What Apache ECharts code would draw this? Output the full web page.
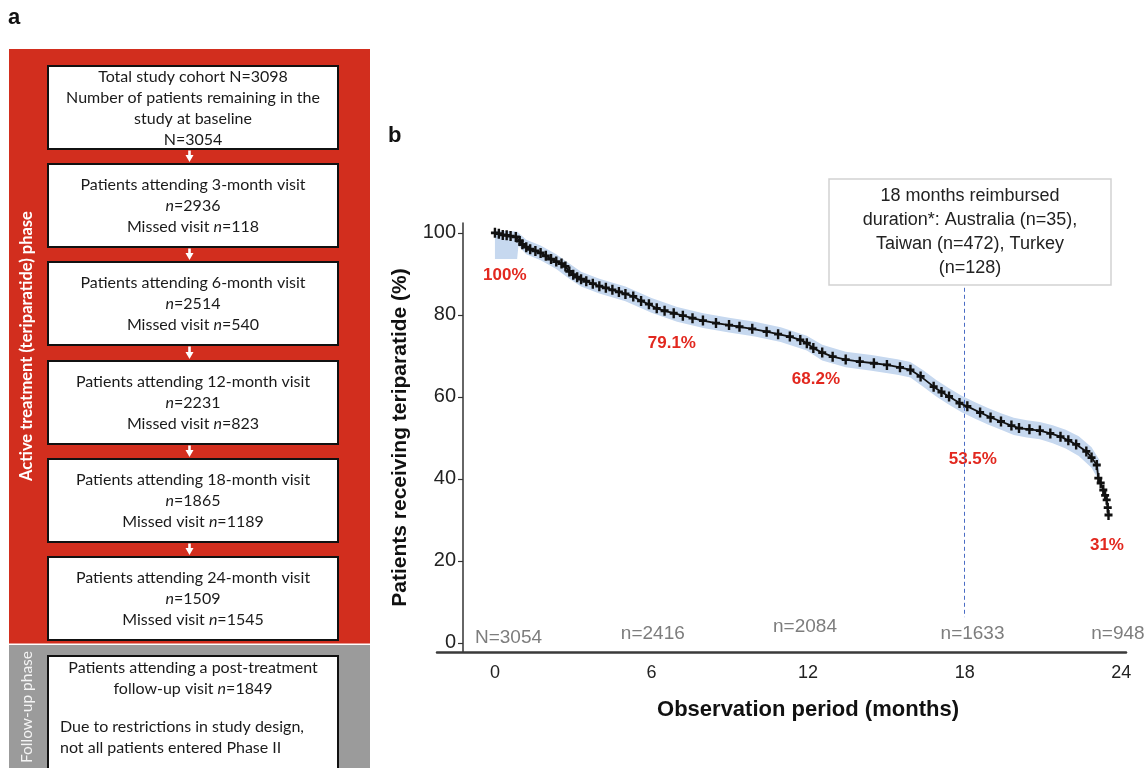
<!DOCTYPE html>
<html><head><meta charset="utf-8">
<script src="https://cdn.jsdelivr.net/npm/echarts@6/dist/echarts.min.js"></script>
<style>html,body{margin:0;padding:0;background:#fff}#c{width:1146px;height:768px}</style>
</head><body><div id="c"></div>
<script>
// ---------- Panel b data ----------
const kmMonths = [0,0.15,0.3,0.45,0.6,0.8,0.95,1.05,1.2,1.35,1.55,1.75,1.95,2.15,2.35,2.55,2.7,2.85,3.0,3.15,3.3,3.5,3.75,4.0,4.25,4.5,4.75,5.0,5.3,5.6,5.9,6.2,6.5,6.85,7.2,7.57,7.97,8.47,8.97,9.37,9.86,10.41,10.85,11.3,11.7,11.95,12.2,12.54,12.94,13.44,13.98,14.52,15.02,15.52,15.92,16.31,16.81,17.11,17.4,17.8,18.1,18.59,18.99,19.39,19.79,20.08,20.48,20.88,21.28,21.67,21.97,22.27,22.66,22.86,23.06,23.12,23.21,23.31,23.38,23.44,23.48,23.51];
const kmPercent = [100,99.8,99.5,99.4,99.2,99.0,98.0,97.2,96.5,96.0,95.6,95.1,94.4,93.6,93.0,92.5,91.8,90.6,89.8,89.2,88.7,88.2,87.6,87.0,86.6,86.1,85.6,85.1,84.5,83.4,82.6,81.6,81.0,80.4,79.8,79.2,78.6,78.0,77.5,77.1,76.6,75.9,75.3,74.7,73.9,73.1,71.9,70.8,69.8,69.1,68.6,68.2,67.8,67.2,66.6,65.0,62.5,61.2,60.1,58.5,57.7,56.2,55.0,54.0,53.0,52.4,52.1,51.8,51.1,50.3,49.4,48.4,46.7,45.2,43.4,40.2,39.0,37.3,36.0,34.9,33.0,31.2];
const ciMonths = [0,0.85,0.9,1.2,1.75,2.35,2.85,3.3,4.0,5.0,6.0,6.98,7.98,8.97,9.96,10.95,11.95,12.54,13.44,14.43,15.42,15.92,16.41,16.91,17.4,17.9,18.4,18.89,19.39,19.88,20.38,20.88,21.37,21.87,22.37,22.86,23.16];
const ciUpper = [100.5,100.3,100.0,98.3,96.9,94.8,92.5,90.5,88.8,86.9,84.1,81.9,80.4,79.3,78.3,77.0,74.9,72.7,71.0,70.2,69.2,68.5,66.5,64.1,62.1,60.2,58.7,57.3,56.0,54.9,54.3,53.9,53.1,52.0,50.4,47.7,44.6];
const ciLower = [93.6,93.6,96.8,94.8,93.3,91.2,88.8,86.9,85.2,83.3,80.5,78.3,76.8,75.7,74.7,73.4,71.3,68.9,67.2,66.4,65.4,64.7,62.5,60.1,58.1,56.2,54.7,53.3,52.0,50.7,50.1,49.7,48.7,47.4,45.6,42.7,39.4];
const xTickValues = [0,6,12,18,24];
const yTickValues = [0,20,40,60,80,100];
const milestoneTexts = ['100%','79.1%','68.2%','53.5%','31%'];
const atRiskTexts = ['N=3054','n=2416','n=2084','n=1633','n=948'];
const reimbursedMonth = 18;
const reimburseNote = ['18 months reimbursed','duration*: Australia (n=35),','Taiwan (n=472), Turkey','(n=128)'];

// ---------- Panel a data ----------
const flowBoxLines = [
  ['Total study cohort N=3098','Number of patients remaining in the','study at baseline','N=3054'],
  ['Patients attending 3-month visit','{i|n}=2936','Missed visit {i|n}=118'],
  ['Patients attending 6-month visit','{i|n}=2514','Missed visit {i|n}=540'],
  ['Patients attending 12-month visit','{i|n}=2231','Missed visit {i|n}=823'],
  ['Patients attending 18-month visit','{i|n}=1865','Missed visit {i|n}=1189'],
  ['Patients attending 24-month visit','{i|n}=1509','Missed visit {i|n}=1545']
];
const followUpLines = ['Patients attending a post-treatment','follow-up visit {i|n}=1849'];
const followUpNote = ['Due to restrictions in study design,','not all patients entered Phase II'];
const phaseLabels = ['Active treatment (teriparatide) phase','Follow-up phase'];

// ---------- layout (annotation anchors in data space) ----------
const milestoneAnchors = [[0.38,89.6],[6.78,73.0],[12.3,64.4],[18.31,44.7],[23.45,23.7]];
const atRiskAnchors = [[0.52,1.3],[6.05,2.2],[11.88,3.9],[18.3,2.2],[23.87,2.2]];

const flowFont = 'Lato, "Open Sans", sans-serif';
const RED = '#d22e1e', GRAY = '#9b9b9b';
const boxX = 48, boxW = 290, boxH = 83;
const boxTops = [66,164,262,361,459,557];
const g = [];
g.push({type:'rect', shape:{x:9,y:49,width:361,height:594.5}, style:{fill:RED}, silent:true});
g.push({type:'rect', shape:{x:9,y:645,width:361,height:130}, style:{fill:GRAY}, silent:true});
const rich = {i:{fontStyle:'italic', fontFamily:flowFont, fontSize:16, fill:'#1a1a1a'}};
flowBoxLines.forEach((lines, k) => {
  const top = boxTops[k];
  g.push({type:'rect', shape:{x:boxX,y:top,width:boxW,height:boxH}, style:{fill:'#fff', stroke:'#111', lineWidth:2}, silent:true});
  g.push({type:'text', x:boxX+boxW/2, y:top+boxH/2+0.5, silent:true,
    style:{text:lines.join('\n'), fontFamily:flowFont, fontSize:16, fill:'#1a1a1a', align:'center', verticalAlign:'middle', lineHeight:21, rich:rich}});
  if (k < flowBoxLines.length-1) {
    const y0 = top+boxH+1.5, y1 = boxTops[k+1]-2;
    const cx = 189.5;
    g.push({type:'rect', shape:{x:cx-1.3,y:y0,width:2.6,height:(y1-y0)-5}, style:{fill:'#fff'}, silent:true});
    g.push({type:'polygon', shape:{points:[[cx-4,y1-7],[cx+4,y1-7],[cx,y1]]}, style:{fill:'#fff'}, silent:true});
  }
});
g.push({type:'rect', shape:{x:boxX,y:656,width:boxW,height:140}, style:{fill:'#fff', stroke:'#111', lineWidth:2}, silent:true});
g.push({type:'text', x:boxX+boxW/2, y:678.5, silent:true,
  style:{text:followUpLines.join('\n'), fontFamily:flowFont, fontSize:16, fill:'#1a1a1a', align:'center', verticalAlign:'middle', lineHeight:21, rich:rich}});
g.push({type:'text', x:60, y:737, silent:true,
  style:{text:followUpNote.join('\n'), fontFamily:flowFont, fontSize:16, fill:'#1a1a1a', align:'left', verticalAlign:'middle', lineHeight:21}});
g.push({type:'text', x:27, y:346, rotation:Math.PI/2, silent:true,
  style:{text:phaseLabels[0], fontFamily:flowFont, fontWeight:'bold', fontSize:16.5, fill:'#fff', align:'center', verticalAlign:'middle'}});
g.push({type:'text', x:27, y:707, rotation:Math.PI/2, silent:true,
  style:{text:phaseLabels[1], fontFamily:flowFont, fontSize:15.5, fill:'#f4f4f4', align:'center', verticalAlign:'middle'}});
// panel letters
g.push({type:'text', x:8, y:7, silent:true, style:{text:'a', fontFamily:'"Liberation Sans", Arial, sans-serif', fontWeight:'bold', fontSize:22, fill:'#111'}});
g.push({type:'text', x:388, y:125, silent:true, style:{text:'b', fontFamily:'"Liberation Sans", Arial, sans-serif', fontWeight:'bold', fontSize:22, fill:'#111'}});
// reimbursement note box
g.push({type:'rect', shape:{x:829,y:179,width:282,height:106}, style:{fill:'#fff', stroke:'#d2d2d2', lineWidth:1.5}, silent:true, z:10});
g.push({type:'text', x:970, y:232.5, silent:true, z:11,
  style:{text:reimburseNote.join('\n'), fontFamily:'"Liberation Sans", Arial, sans-serif', fontSize:18, fill:'#222', align:'center', verticalAlign:'middle', lineHeight:24}});

const SANS = '"Liberation Sans", Arial, sans-serif';
const plusPath = 'path://M3.5,0L6.5,0L6.5,3.6L10,3.6L10,6.4L6.5,6.4L6.5,10L3.5,10L3.5,6.4L0,6.4L0,3.6L3.5,3.6Z';

const option = {
  animation: false,
  backgroundColor: '#fff',
  graphic: g,
  grid: {left:437, right:20, top:223, bottom:116, containLabel:false},
  xAxis: {
    type:'value', min:-2.22, max:24.18,
    name:'Observation period (months)', nameLocation:'middle', nameGap:47,
    nameTextStyle:{fontFamily:SANS, fontWeight:'bold', fontSize:22, color:'#111', padding:[0,0,0,53]},
    axisLine:{show:true, onZero:false, lineStyle:{color:'#3a3a3a', width:2.5}},
    axisTick:{show:false},
    axisLabel:{customValues:xTickValues, fontFamily:SANS, fontSize:18, color:'#222', margin:12},
    splitLine:{show:false}
  },
  yAxis: {
    type:'value', min:-2.2, max:102.4, offset:-26,
    name:'Patients receiving teriparatide (%)', nameLocation:'middle', nameGap:52, nameRotate:90,
    nameTextStyle:{fontFamily:SANS, fontWeight:'bold', fontSize:21, color:'#111'},
    axisLine:{show:true, onZero:false, lineStyle:{color:'#333', width:1.5}},
    axisTick:{show:true, customValues:yTickValues, length:5, lineStyle:{color:'#333', width:1.2}},
    axisLabel:{customValues:yTickValues, fontFamily:SANS, fontSize:20, color:'#222', margin:7},
    splitLine:{show:false}
  },
  series: [
    {name:'95% CI', type:'custom', silent:true, clip:false, z:1,
     data:[[ciMonths[0], ciUpper[0]]],
     renderItem:(params, api) => {
       const pts = [];
       for (let i=0;i<ciMonths.length;i++) pts.push(api.coord([ciMonths[i], ciUpper[i]]));
       for (let i=ciMonths.length-1;i>=0;i--) pts.push(api.coord([ciMonths[i], ciLower[i]]));
       return {type:'polygon', shape:{points:pts}, style:{fill:'#c6d8ef'}};
     }},
    {name:'KM', type:'line', symbol:plusPath, symbolSize:[8,10], showSymbol:true, showAllSymbol:true, z:3,
     itemStyle:{color:'#111', opacity:1}, lineStyle:{color:'#111', width:1.8},
     data: kmMonths.map((t,i)=>[t, kmPercent[i]]),
     markLine:{silent:true, symbol:'none', label:{show:false},
       lineStyle:{color:'#4a6cc4', type:[4,3], width:1},
       data:[[{coord:[reimbursedMonth,86.6]},{coord:[reimbursedMonth,6.3]}]]}
    },
    {name:'milestones', type:'scatter', symbolSize:0, silent:true, z:4,
     itemStyle:{opacity:1},
     data: milestoneAnchors.map((p,i)=>({value:p, name:milestoneTexts[i]})),
     label:{show:true, position:'inside', opacity:1, formatter:p=>p.name, fontFamily:SANS, fontWeight:'bold', fontSize:17, color:'#e2281f'}},
    {name:'atRisk', type:'scatter', symbolSize:0, silent:true, z:4,
     itemStyle:{opacity:1},
     data: atRiskAnchors.map((p,i)=>({value:p, name:atRiskTexts[i]})),
     label:{show:true, position:'inside', opacity:1, formatter:p=>p.name, fontFamily:SANS, fontSize:19, color:'#7d7d7d'}}
  ]
};
const chart = echarts.init(document.getElementById('c'), null, {renderer:'canvas'});
chart.setOption(option);
</script>
</body></html>
